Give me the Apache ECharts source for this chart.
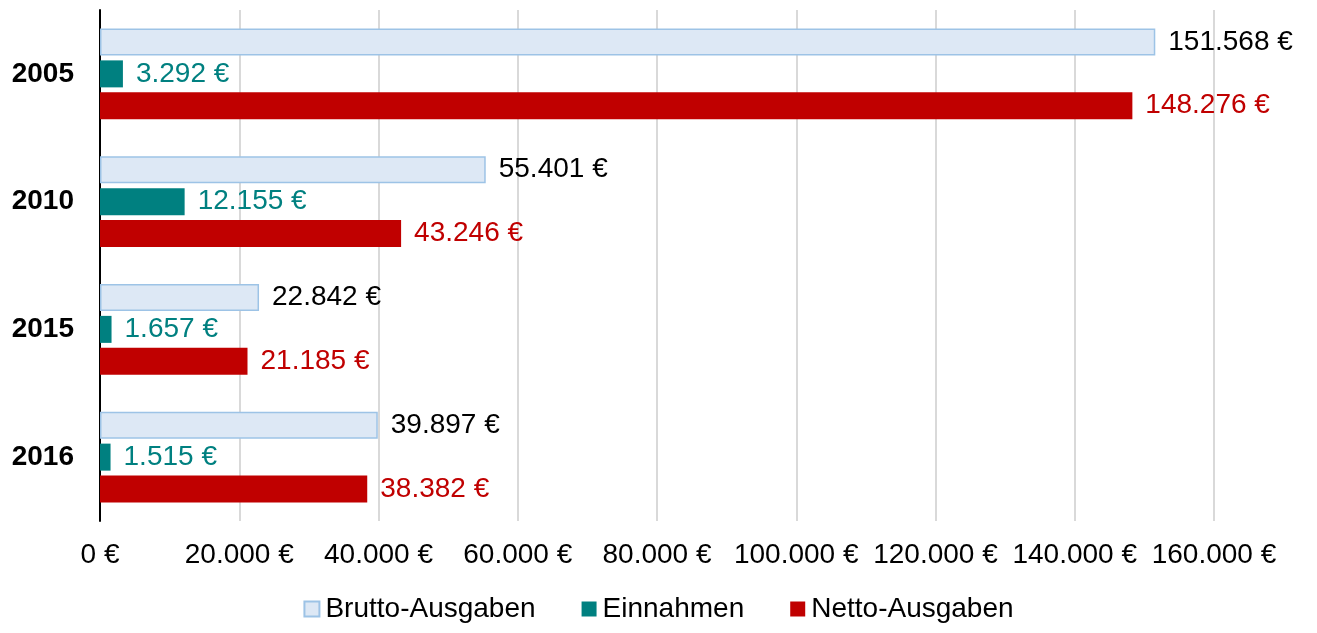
<!DOCTYPE html>
<html>
<head>
<meta charset="utf-8">
<script src="https://cdn.jsdelivr.net/npm/echarts@6/dist/echarts.min.js"></script>
<style>
  html, body { margin: 0; padding: 0; background: #fff; }
  #chart { width: 1317px; height: 633px; }
</style>
</head>
<body>
<div id="chart"></div>
<script>
// Daten
const jahre = ['2005', '2010', '2015', '2016'];
const brutto = [151568, 55401, 22842, 39897];
const einnahmen = [3292, 12155, 1657, 1515];
const netto = [148276, 43246, 21185, 38382];
const xTicks = [0, 20000, 40000, 60000, 80000, 100000, 120000, 140000, 160000];

const FONT = '"Liberation Sans", Arial, sans-serif';

// Tausenderpunkt wie im Original
function euro(v) {
  return String(Math.round(v)).replace(/\B(?=(\d{3})+(?!\d))/g, '.') + ' €';
}

function labelFor(color) {
  return {
    show: true,
    position: 'right',
    distance: 13,
    color: color,
    fontFamily: FONT,
    fontSize: 28,
    formatter: p => euro(p.value),
  };
}

const chart = echarts.init(document.getElementById('chart'), null, { renderer: 'canvas' });

chart.setOption({
  animation: false,
  backgroundColor: '#fff',
  textStyle: { fontFamily: FONT },
  grid: { left: 100, right: 103, top: 10, bottom: 112, containLabel: false },
  legend: {
    bottom: 5,
    left: 'center',
    icon: 'rect',
    itemWidth: 15,
    itemHeight: 15,
    itemGap: 46,
    textStyle: { fontSize: 28, color: '#000', fontFamily: FONT, padding: [0, 0, 0, 1] },
    data: ['Brutto-Ausgaben', 'Einnahmen', 'Netto-Ausgaben'],
  },
  xAxis: {
    type: 'value',
    min: xTicks[0],
    max: xTicks[xTicks.length - 1],
    interval: xTicks[1] - xTicks[0],
    axisLine: { show: false },
    axisTick: { show: false },
    axisLabel: { fontSize: 28, color: '#000', margin: 20, formatter: v => euro(v) },
    splitLine: { show: true, lineStyle: { color: '#d9d9d9', width: 2 } },
  },
  yAxis: {
    type: 'category',
    inverse: true,
    data: jahre,
    axisLine: { show: true, onZero: false, lineStyle: { color: '#000', width: 2 } },
    axisTick: { show: false },
    axisLabel: { fontSize: 28, fontWeight: 'bold', color: '#000', margin: 26 },
    splitLine: { show: false },
  },
  series: [
    {
      name: 'Brutto-Ausgaben',
      type: 'bar',
      data: brutto,
      barWidth: 27,
      barGap: '18%',
      itemStyle: { color: '#dde8f5', borderColor: '#9dc3e6', borderWidth: 1.5 },
      label: labelFor('#000'),
    },
    {
      name: 'Einnahmen',
      type: 'bar',
      data: einnahmen,
      barWidth: 27,
      barGap: '18%',
      itemStyle: { color: '#008080' },
      label: labelFor('#008080'),
    },
    {
      name: 'Netto-Ausgaben',
      type: 'bar',
      data: netto,
      barWidth: 27,
      barGap: '18%',
      itemStyle: { color: '#c00000' },
      label: labelFor('#c00000'),
    },
  ],
});
</script>
</body>
</html>
